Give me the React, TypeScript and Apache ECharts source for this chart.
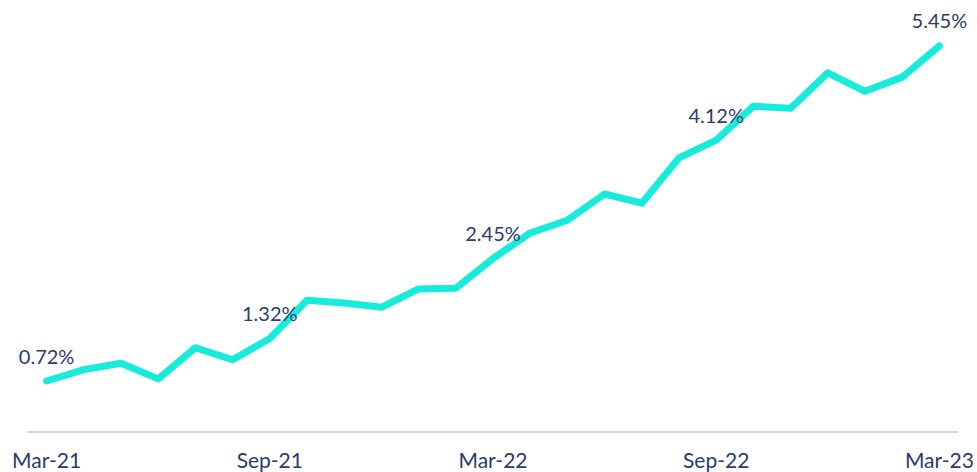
import React, { useEffect, useRef } from "react";
import * as echarts from "echarts";

const months = [
  "Mar-21", "Apr-21", "May-21", "Jun-21", "Jul-21", "Aug-21", "Sep-21", "Oct-21", "Nov-21", "Dec-21",
  "Jan-22", "Feb-22", "Mar-22", "Apr-22", "May-22", "Jun-22", "Jul-22", "Aug-22", "Sep-22", "Oct-22",
  "Nov-22", "Dec-22", "Jan-23", "Feb-23", "Mar-23",
];
const values = [
  0.72, 0.88, 0.97, 0.75, 1.19, 1.02, 1.32, 1.86, 1.82, 1.76,
  2.02, 2.03, 2.45, 2.81, 2.99, 3.36, 3.23, 3.87, 4.12, 4.6,
  4.57, 5.07, 4.81, 5.01, 5.45,
];
const labelledMonths = ["Mar-21", "Sep-21", "Mar-22", "Sep-22", "Mar-23"];

const NAVY = "#2b3b70";
const CYAN = "#17ebdc";

export default function App() {
  const ref = useRef<HTMLDivElement>(null);
  useEffect(() => {
    if (!ref.current) return;
    const chart = echarts.init(ref.current, undefined, { renderer: "svg" });
    chart.setOption({
      animation: false,
      grid: { left: 28, right: 19, top: 7, bottom: 40 },
      xAxis: {
        type: "category",
        data: months,
        boundaryGap: true,
        axisLine: { show: true, lineStyle: { color: "#d3d4dc", width: 2 } },
        axisTick: { show: false },
        axisLabel: {
          interval: (i: number, v: string) => labelledMonths.includes(v),
          color: NAVY,
          fontFamily: "Lato",
          fontSize: 21,
          margin: 17,
        },
        splitLine: { show: false },
      },
      yAxis: {
        type: "value",
        min: 0,
        max: 6,
        show: false,
        splitLine: { show: false },
      },
      series: [
        {
          type: "line",
          data: values.map((v, i) => ({
            value: v,
            label: {
              show: labelledMonths.includes(months[i]),
              position: "top",
              distance: 15,
              formatter: (p: any) => `${Number(p.value).toFixed(2)}%`,
              color: NAVY,
              fontFamily: "Lato",
              fontSize: 20,
            },
          })),
          symbol: "circle",
          symbolSize: 1,
          showSymbol: true,
          itemStyle: { color: CYAN },
          lineStyle: { color: CYAN, width: 7, cap: "round", join: "round" },
        },
      ],
    });
    return () => chart.dispose();
  }, []);
  return (
    <div
      ref={ref}
      style={{ position: "absolute", left: 0, top: 0, width: 977, height: 472, background: "#fff" }}
    />
  );
}
